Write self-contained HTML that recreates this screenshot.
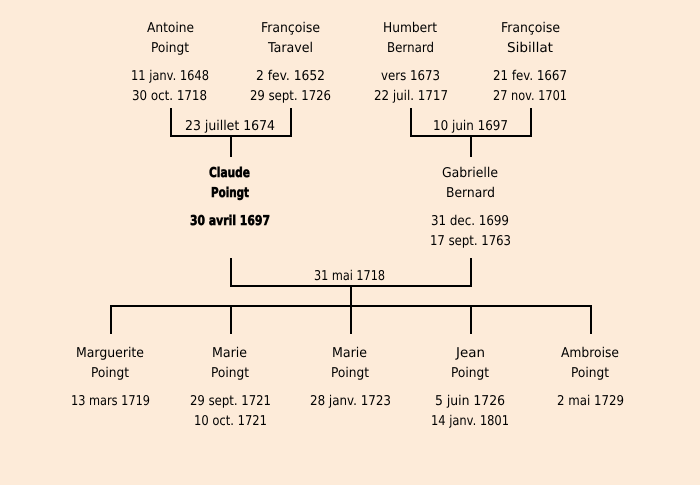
<!DOCTYPE html>
<html><head><meta charset="utf-8"><style>
html,body{margin:0;padding:0;background:#fdebd9;width:700px;height:485px;overflow:hidden}
svg{display:block}
text{font-family:"DejaVu Sans",sans-serif;font-size:13.5px;fill:#000;text-anchor:start;text-rendering:geometricPrecision}
.b{stroke:#000;stroke-width:.6px;font-weight:bold}
</style></head><body>
<svg width="700" height="485" viewBox="0 0 700 485">
<rect width="700" height="485" fill="#fdebd9"/>
<g fill="none" stroke="#000" stroke-width="2">
<path d="M171 108V136H291V108M231 136V157"/>
<path d="M411 108V136H531V108M471 136V157"/>
<path d="M231 258V286H471V258M351 286V306"/>
<path d="M110 306H592M111 306V334M231 306V334M351 306V334M471 306V334M591 306V334"/>
</g>
<g>
<text x="147" y="32" textLength="47" lengthAdjust="spacingAndGlyphs">Antoine</text>
<text x="151" y="52" textLength="38" lengthAdjust="spacingAndGlyphs">Poingt</text>
<text x="131" y="80" textLength="78" lengthAdjust="spacingAndGlyphs">11 janv. 1648</text>
<text x="132" y="100" textLength="75" lengthAdjust="spacingAndGlyphs">30 oct. 1718</text>
<text x="261" y="32" textLength="59" lengthAdjust="spacingAndGlyphs">Françoise</text>
<text x="268" y="52" textLength="45" lengthAdjust="spacingAndGlyphs">Taravel</text>
<text x="256" y="80" textLength="69" lengthAdjust="spacingAndGlyphs">2 fev. 1652</text>
<text x="250" y="100" textLength="81" lengthAdjust="spacingAndGlyphs">29 sept. 1726</text>
<text x="185" y="130" textLength="90" lengthAdjust="spacingAndGlyphs">23 juillet 1674</text>
<text x="383" y="32" textLength="54" lengthAdjust="spacingAndGlyphs">Humbert</text>
<text x="387" y="52" textLength="47" lengthAdjust="spacingAndGlyphs">Bernard</text>
<text x="381" y="80" textLength="59" lengthAdjust="spacingAndGlyphs">vers 1673</text>
<text x="374" y="100" textLength="74" lengthAdjust="spacingAndGlyphs">22 juil. 1717</text>
<text x="501" y="32" textLength="59" lengthAdjust="spacingAndGlyphs">Françoise</text>
<text x="507" y="52" textLength="46" lengthAdjust="spacingAndGlyphs">Sibillat</text>
<text x="493" y="80" textLength="74" lengthAdjust="spacingAndGlyphs">21 fev. 1667</text>
<text x="493" y="100" textLength="74" lengthAdjust="spacingAndGlyphs">27 nov. 1701</text>
<text x="433" y="130" textLength="75" lengthAdjust="spacingAndGlyphs">10 juin 1697</text>
<text class="b" x="209" y="177" textLength="41" lengthAdjust="spacingAndGlyphs">Claude</text>
<text class="b" x="211" y="197" textLength="38" lengthAdjust="spacingAndGlyphs">Poingt</text>
<text class="b" x="190" y="225" textLength="80" lengthAdjust="spacingAndGlyphs">30 avril 1697</text>
<text x="442" y="177" textLength="56" lengthAdjust="spacingAndGlyphs">Gabrielle</text>
<text x="446" y="197" textLength="49" lengthAdjust="spacingAndGlyphs">Bernard</text>
<text x="431" y="225" textLength="78" lengthAdjust="spacingAndGlyphs">31 dec. 1699</text>
<text x="430" y="245" textLength="81" lengthAdjust="spacingAndGlyphs">17 sept. 1763</text>
<text x="314" y="280" textLength="71" lengthAdjust="spacingAndGlyphs">31 mai 1718</text>
<text x="76" y="357" textLength="68" lengthAdjust="spacingAndGlyphs">Marguerite</text>
<text x="91" y="377" textLength="38" lengthAdjust="spacingAndGlyphs">Poingt</text>
<text x="71" y="405" textLength="79" lengthAdjust="spacingAndGlyphs">13 mars 1719</text>
<text x="212" y="357" textLength="35" lengthAdjust="spacingAndGlyphs">Marie</text>
<text x="211" y="377" textLength="38" lengthAdjust="spacingAndGlyphs">Poingt</text>
<text x="190" y="405" textLength="81" lengthAdjust="spacingAndGlyphs">29 sept. 1721</text>
<text x="194" y="425" textLength="73" lengthAdjust="spacingAndGlyphs">10 oct. 1721</text>
<text x="332" y="357" textLength="35" lengthAdjust="spacingAndGlyphs">Marie</text>
<text x="331" y="377" textLength="38" lengthAdjust="spacingAndGlyphs">Poingt</text>
<text x="310" y="405" textLength="81" lengthAdjust="spacingAndGlyphs">28 janv. 1723</text>
<text x="456" y="357" textLength="29" lengthAdjust="spacingAndGlyphs">Jean</text>
<text x="451" y="377" textLength="38" lengthAdjust="spacingAndGlyphs">Poingt</text>
<text x="435" y="405" textLength="70" lengthAdjust="spacingAndGlyphs">5 juin 1726</text>
<text x="431" y="425" textLength="78" lengthAdjust="spacingAndGlyphs">14 janv. 1801</text>
<text x="561" y="357" textLength="58" lengthAdjust="spacingAndGlyphs">Ambroise</text>
<text x="571" y="377" textLength="38" lengthAdjust="spacingAndGlyphs">Poingt</text>
<text x="557" y="405" textLength="67" lengthAdjust="spacingAndGlyphs">2 mai 1729</text>
</g>
</svg>
</body></html>
